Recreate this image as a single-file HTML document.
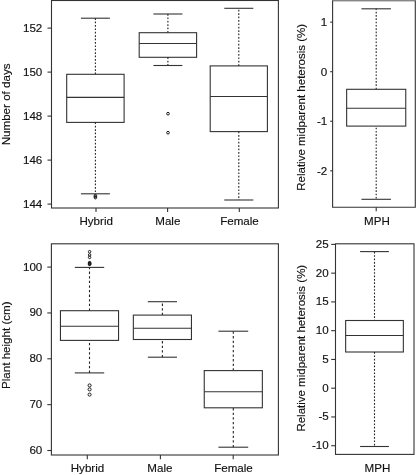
<!DOCTYPE html>
<html><head><meta charset="utf-8"><style>
html,body{margin:0;padding:0;background:#fff;width:416px;height:475px;overflow:hidden}
svg{display:block;font-family:"Liberation Sans",sans-serif;will-change:transform}
text{fill:#111;stroke:#111;stroke-width:0.15px}
</style></head><body>
<svg width="416" height="475" viewBox="0 0 416 475">
<rect width="416" height="475" fill="#fff"/>
<rect x="51.5" y="0.5" width="226.90" height="207.50" fill="none" stroke="#333" stroke-width="1.1"/>
<line x1="47.5" y1="204.1" x2="51.5" y2="204.1" stroke="#333" stroke-width="1.1"/>
<text x="42.3" y="207.6" text-anchor="end" font-size="11.6">144</text>
<line x1="47.5" y1="160.1" x2="51.5" y2="160.1" stroke="#333" stroke-width="1.1"/>
<text x="42.3" y="163.6" text-anchor="end" font-size="11.6">146</text>
<line x1="47.5" y1="116.1" x2="51.5" y2="116.1" stroke="#333" stroke-width="1.1"/>
<text x="42.3" y="119.6" text-anchor="end" font-size="11.6">148</text>
<line x1="47.5" y1="72.1" x2="51.5" y2="72.1" stroke="#333" stroke-width="1.1"/>
<text x="42.3" y="75.6" text-anchor="end" font-size="11.6">150</text>
<line x1="47.5" y1="28.1" x2="51.5" y2="28.1" stroke="#333" stroke-width="1.1"/>
<text x="42.3" y="31.6" text-anchor="end" font-size="11.6">152</text>
<line x1="80.9" y1="18.2" x2="109.9" y2="18.2" stroke="#333" stroke-width="1.1"/>
<line x1="95.4" y1="74.3" x2="95.4" y2="18.2" stroke="#222" stroke-width="1.1" stroke-dasharray="1.7 1.7" stroke-dashoffset="0"/>
<rect x="66.7" y="74.3" width="57.40" height="48.10" fill="none" stroke="#333" stroke-width="1.1"/>
<line x1="66.7" y1="97.4" x2="124.10000000000001" y2="97.4" stroke="#333" stroke-width="1.1"/>
<line x1="95.4" y1="122.4" x2="95.4" y2="193.8" stroke="#222" stroke-width="1.1" stroke-dasharray="1.7 1.7" stroke-dashoffset="0"/>
<line x1="80.9" y1="193.8" x2="109.9" y2="193.8" stroke="#333" stroke-width="1.1"/>
<circle cx="95.4" cy="195.6" r="1.25" fill="none" stroke="#1a1a1a" stroke-width="1.0"/>
<circle cx="95.4" cy="196.6" r="1.25" fill="none" stroke="#1a1a1a" stroke-width="1.0"/>
<circle cx="95.4" cy="197.7" r="1.25" fill="none" stroke="#1a1a1a" stroke-width="1.0"/>
<line x1="153.4" y1="14" x2="182.4" y2="14" stroke="#333" stroke-width="1.1"/>
<line x1="167.9" y1="32.7" x2="167.9" y2="14" stroke="#222" stroke-width="1.1" stroke-dasharray="1.7 1.7" stroke-dashoffset="0"/>
<rect x="139.20000000000002" y="32.7" width="57.40" height="24.60" fill="none" stroke="#333" stroke-width="1.1"/>
<line x1="139.20000000000002" y1="43.5" x2="196.6" y2="43.5" stroke="#333" stroke-width="1.1"/>
<line x1="167.9" y1="57.3" x2="167.9" y2="65.5" stroke="#222" stroke-width="1.1" stroke-dasharray="1.7 1.7" stroke-dashoffset="0"/>
<line x1="153.4" y1="65.5" x2="182.4" y2="65.5" stroke="#333" stroke-width="1.1"/>
<circle cx="168" cy="113.7" r="1.35" fill="none" stroke="#1a1a1a" stroke-width="1.0"/>
<circle cx="168" cy="132.7" r="1.35" fill="none" stroke="#1a1a1a" stroke-width="1.0"/>
<line x1="224.3" y1="8.3" x2="253.3" y2="8.3" stroke="#333" stroke-width="1.1"/>
<line x1="238.8" y1="65.9" x2="238.8" y2="8.3" stroke="#222" stroke-width="1.1" stroke-dasharray="1.7 1.7" stroke-dashoffset="0"/>
<rect x="210.20000000000002" y="65.9" width="57.20" height="65.70" fill="none" stroke="#333" stroke-width="1.1"/>
<line x1="210.20000000000002" y1="96.5" x2="267.40000000000003" y2="96.5" stroke="#333" stroke-width="1.1"/>
<line x1="238.8" y1="131.6" x2="238.8" y2="200" stroke="#222" stroke-width="1.1" stroke-dasharray="1.7 1.7" stroke-dashoffset="0"/>
<line x1="224.3" y1="200" x2="253.3" y2="200" stroke="#333" stroke-width="1.1"/>
<line x1="96" y1="208" x2="96" y2="211.9" stroke="#333" stroke-width="1.1"/>
<text x="96.2" y="224.8" text-anchor="middle" font-size="11.6">Hybrid</text>
<line x1="167.6" y1="208" x2="167.6" y2="211.9" stroke="#333" stroke-width="1.1"/>
<text x="167.79999999999998" y="224.8" text-anchor="middle" font-size="11.6">Male</text>
<line x1="239.3" y1="208" x2="239.3" y2="211.9" stroke="#333" stroke-width="1.1"/>
<text x="239.5" y="224.8" text-anchor="middle" font-size="11.6">Female</text>
<text x="10.4" y="104.4" text-anchor="middle" font-size="11.6" transform="rotate(-90 10.4 104.4)">Number of days</text>
<path d="M415.3 0.5V207.3H332.6V0.5" fill="none" stroke="#333" stroke-width="1.1"/>
<line x1="332.1" y1="0.8" x2="415.8" y2="0.8" stroke="#555" stroke-width="1.0"/>
<line x1="330.2" y1="170.8" x2="332.6" y2="170.8" stroke="#333" stroke-width="1.1"/>
<text x="327.3" y="174.9" text-anchor="end" font-size="11.6">-2</text>
<line x1="330.2" y1="121.25" x2="332.6" y2="121.25" stroke="#333" stroke-width="1.1"/>
<text x="327.3" y="125.35" text-anchor="end" font-size="11.6">-1</text>
<line x1="330.2" y1="71.7" x2="332.6" y2="71.7" stroke="#333" stroke-width="1.1"/>
<text x="327.3" y="75.8" text-anchor="end" font-size="11.6">0</text>
<line x1="330.2" y1="22.150000000000006" x2="332.6" y2="22.150000000000006" stroke="#333" stroke-width="1.1"/>
<text x="327.3" y="26.250000000000007" text-anchor="end" font-size="11.6">1</text>
<line x1="361.45" y1="8.8" x2="390.95" y2="8.8" stroke="#333" stroke-width="1.1"/>
<line x1="376.2" y1="89.3" x2="376.2" y2="8.8" stroke="#222" stroke-width="1.1" stroke-dasharray="1.65 1.65" stroke-dashoffset="0"/>
<rect x="346.65" y="89.3" width="59.10" height="36.80" fill="none" stroke="#333" stroke-width="1.1"/>
<line x1="346.65" y1="108.2" x2="405.75" y2="108.2" stroke="#333" stroke-width="1.1"/>
<line x1="376.2" y1="126.1" x2="376.2" y2="199.3" stroke="#222" stroke-width="1.1" stroke-dasharray="1.65 1.65" stroke-dashoffset="1.75"/>
<line x1="361.45" y1="199.3" x2="390.95" y2="199.3" stroke="#333" stroke-width="1.1"/>
<line x1="376.2" y1="207.3" x2="376.2" y2="211.3" stroke="#333" stroke-width="1.1"/>
<text x="376.9" y="224.8" text-anchor="middle" font-size="11.6">MPH</text>
<text x="305.5" y="107.3" text-anchor="middle" font-size="11.5" transform="rotate(-90 305.5 107.3)">Relative midparent heterosis (%)</text>
<rect x="51.4" y="243.8" width="227.00" height="211.20" fill="none" stroke="#333" stroke-width="1.1"/>
<line x1="47.3" y1="450.5" x2="51.4" y2="450.5" stroke="#333" stroke-width="1.1"/>
<text x="42.3" y="454.0" text-anchor="end" font-size="11.6">60</text>
<line x1="47.3" y1="404.65000000000003" x2="51.4" y2="404.65000000000003" stroke="#333" stroke-width="1.1"/>
<text x="42.3" y="408.15000000000003" text-anchor="end" font-size="11.6">70</text>
<line x1="47.3" y1="358.8" x2="51.4" y2="358.8" stroke="#333" stroke-width="1.1"/>
<text x="42.3" y="362.3" text-anchor="end" font-size="11.6">80</text>
<line x1="47.3" y1="312.95000000000005" x2="51.4" y2="312.95000000000005" stroke="#333" stroke-width="1.1"/>
<text x="42.3" y="316.45000000000005" text-anchor="end" font-size="11.6">90</text>
<line x1="47.3" y1="267.1" x2="51.4" y2="267.1" stroke="#333" stroke-width="1.1"/>
<text x="42.3" y="270.6" text-anchor="end" font-size="11.6">100</text>
<line x1="74.8" y1="267.4" x2="104.2" y2="267.4" stroke="#333" stroke-width="1.1"/>
<line x1="89.5" y1="310.7" x2="89.5" y2="267.4" stroke="#222" stroke-width="1.1" stroke-dasharray="2.3 2.3" stroke-dashoffset="0"/>
<rect x="60.45" y="310.7" width="58.10" height="29.70" fill="none" stroke="#333" stroke-width="1.1"/>
<line x1="60.45" y1="326.3" x2="118.55" y2="326.3" stroke="#333" stroke-width="1.1"/>
<line x1="89.5" y1="372.9" x2="89.5" y2="340.4" stroke="#222" stroke-width="1.1" stroke-dasharray="2.3 2.3" stroke-dashoffset="0"/>
<line x1="74.8" y1="372.9" x2="104.2" y2="372.9" stroke="#333" stroke-width="1.1"/>
<circle cx="89.6" cy="251.7" r="1.25" fill="none" stroke="#1a1a1a" stroke-width="1.0"/>
<circle cx="89.6" cy="254.9" r="1.25" fill="none" stroke="#1a1a1a" stroke-width="1.0"/>
<circle cx="89.6" cy="257.4" r="1.25" fill="none" stroke="#1a1a1a" stroke-width="1.0"/>
<circle cx="89.6" cy="262.6" r="1.25" fill="none" stroke="#1a1a1a" stroke-width="1.0"/>
<circle cx="89.6" cy="263.1" r="1.25" fill="none" stroke="#1a1a1a" stroke-width="1.0"/>
<circle cx="89.6" cy="263.6" r="1.25" fill="none" stroke="#1a1a1a" stroke-width="1.0"/>
<circle cx="89.6" cy="264.1" r="1.25" fill="none" stroke="#1a1a1a" stroke-width="1.0"/>
<circle cx="89.6" cy="264.4" r="1.25" fill="none" stroke="#1a1a1a" stroke-width="1.0"/>
<circle cx="89.6" cy="385.4" r="1.55" fill="none" stroke="#1a1a1a" stroke-width="1.0"/>
<circle cx="89.6" cy="389.4" r="1.55" fill="none" stroke="#1a1a1a" stroke-width="1.0"/>
<circle cx="89.6" cy="394.6" r="1.55" fill="none" stroke="#1a1a1a" stroke-width="1.0"/>
<line x1="147.8" y1="301.7" x2="177.0" y2="301.7" stroke="#333" stroke-width="1.1"/>
<line x1="162.4" y1="315.1" x2="162.4" y2="301.7" stroke="#222" stroke-width="1.1" stroke-dasharray="2.3 2.3" stroke-dashoffset="0"/>
<rect x="133.35" y="315.1" width="58.10" height="24.40" fill="none" stroke="#333" stroke-width="1.1"/>
<line x1="133.35" y1="328.3" x2="191.45000000000002" y2="328.3" stroke="#333" stroke-width="1.1"/>
<line x1="162.4" y1="357.2" x2="162.4" y2="339.5" stroke="#222" stroke-width="1.1" stroke-dasharray="2.3 2.3" stroke-dashoffset="0"/>
<line x1="147.8" y1="357.2" x2="177.0" y2="357.2" stroke="#333" stroke-width="1.1"/>
<line x1="218.4" y1="331.2" x2="248.20000000000002" y2="331.2" stroke="#333" stroke-width="1.1"/>
<line x1="233.3" y1="370.6" x2="233.3" y2="331.2" stroke="#222" stroke-width="1.1" stroke-dasharray="2.3 2.3" stroke-dashoffset="0"/>
<rect x="204.25" y="370.6" width="58.10" height="37.20" fill="none" stroke="#333" stroke-width="1.1"/>
<line x1="204.25" y1="391.7" x2="262.35" y2="391.7" stroke="#333" stroke-width="1.1"/>
<line x1="233.3" y1="447.2" x2="233.3" y2="407.8" stroke="#222" stroke-width="1.1" stroke-dasharray="2.3 2.3" stroke-dashoffset="0"/>
<line x1="218.4" y1="447.2" x2="248.20000000000002" y2="447.2" stroke="#333" stroke-width="1.1"/>
<line x1="87.3" y1="455" x2="87.3" y2="459.2" stroke="#333" stroke-width="1.1"/>
<text x="87.5" y="472" text-anchor="middle" font-size="11.6">Hybrid</text>
<line x1="160.4" y1="455" x2="160.4" y2="459.2" stroke="#333" stroke-width="1.1"/>
<text x="159.9" y="472" text-anchor="middle" font-size="11.6">Male</text>
<line x1="233.2" y1="455" x2="233.2" y2="459.2" stroke="#333" stroke-width="1.1"/>
<text x="233.5" y="472" text-anchor="middle" font-size="11.6">Female</text>
<text x="10.3" y="345.2" text-anchor="middle" font-size="11.6" transform="rotate(-90 10.3 345.2)">Plant height (cm)</text>
<rect x="335.5" y="243.8" width="78.50" height="210.60" fill="none" stroke="#333" stroke-width="1.1"/>
<line x1="331.2" y1="445.725" x2="335.5" y2="445.725" stroke="#333" stroke-width="1.1"/>
<text x="328.7" y="449.225" text-anchor="end" font-size="11.6">-10</text>
<line x1="331.2" y1="416.9625" x2="335.5" y2="416.9625" stroke="#333" stroke-width="1.1"/>
<text x="328.7" y="420.4625" text-anchor="end" font-size="11.6">-5</text>
<line x1="331.2" y1="388.2" x2="335.5" y2="388.2" stroke="#333" stroke-width="1.1"/>
<text x="328.7" y="391.7" text-anchor="end" font-size="11.6">0</text>
<line x1="331.2" y1="359.4375" x2="335.5" y2="359.4375" stroke="#333" stroke-width="1.1"/>
<text x="328.7" y="362.9375" text-anchor="end" font-size="11.6">5</text>
<line x1="331.2" y1="330.67499999999995" x2="335.5" y2="330.67499999999995" stroke="#333" stroke-width="1.1"/>
<text x="328.7" y="334.17499999999995" text-anchor="end" font-size="11.6">10</text>
<line x1="331.2" y1="301.91249999999997" x2="335.5" y2="301.91249999999997" stroke="#333" stroke-width="1.1"/>
<text x="328.7" y="305.41249999999997" text-anchor="end" font-size="11.6">15</text>
<line x1="331.2" y1="273.15" x2="335.5" y2="273.15" stroke="#333" stroke-width="1.1"/>
<text x="328.7" y="276.65" text-anchor="end" font-size="11.6">20</text>
<line x1="331.2" y1="244.3875" x2="335.5" y2="244.3875" stroke="#333" stroke-width="1.1"/>
<text x="328.7" y="247.8875" text-anchor="end" font-size="11.6">25</text>
<line x1="360.1" y1="251.6" x2="388.9" y2="251.6" stroke="#333" stroke-width="1.1"/>
<line x1="374.5" y1="320.5" x2="374.5" y2="251.6" stroke="#222" stroke-width="1.1" stroke-dasharray="1.7 1.7" stroke-dashoffset="0.95"/>
<rect x="345.65" y="320.5" width="57.70" height="31.50" fill="none" stroke="#333" stroke-width="1.1"/>
<line x1="345.65" y1="335.5" x2="403.35" y2="335.5" stroke="#333" stroke-width="1.1"/>
<line x1="374.5" y1="352.0" x2="374.5" y2="446.5" stroke="#222" stroke-width="1.1" stroke-dasharray="1.7 1.7" stroke-dashoffset="0"/>
<line x1="360.1" y1="446.5" x2="388.9" y2="446.5" stroke="#333" stroke-width="1.1"/>
<text x="377.4" y="472" text-anchor="middle" font-size="11.6">MPH</text>
<text x="305.5" y="348.2" text-anchor="middle" font-size="11.5" transform="rotate(-90 305.5 348.2)">Relative midparent heterosis (%)</text>
</svg>
</body></html>
